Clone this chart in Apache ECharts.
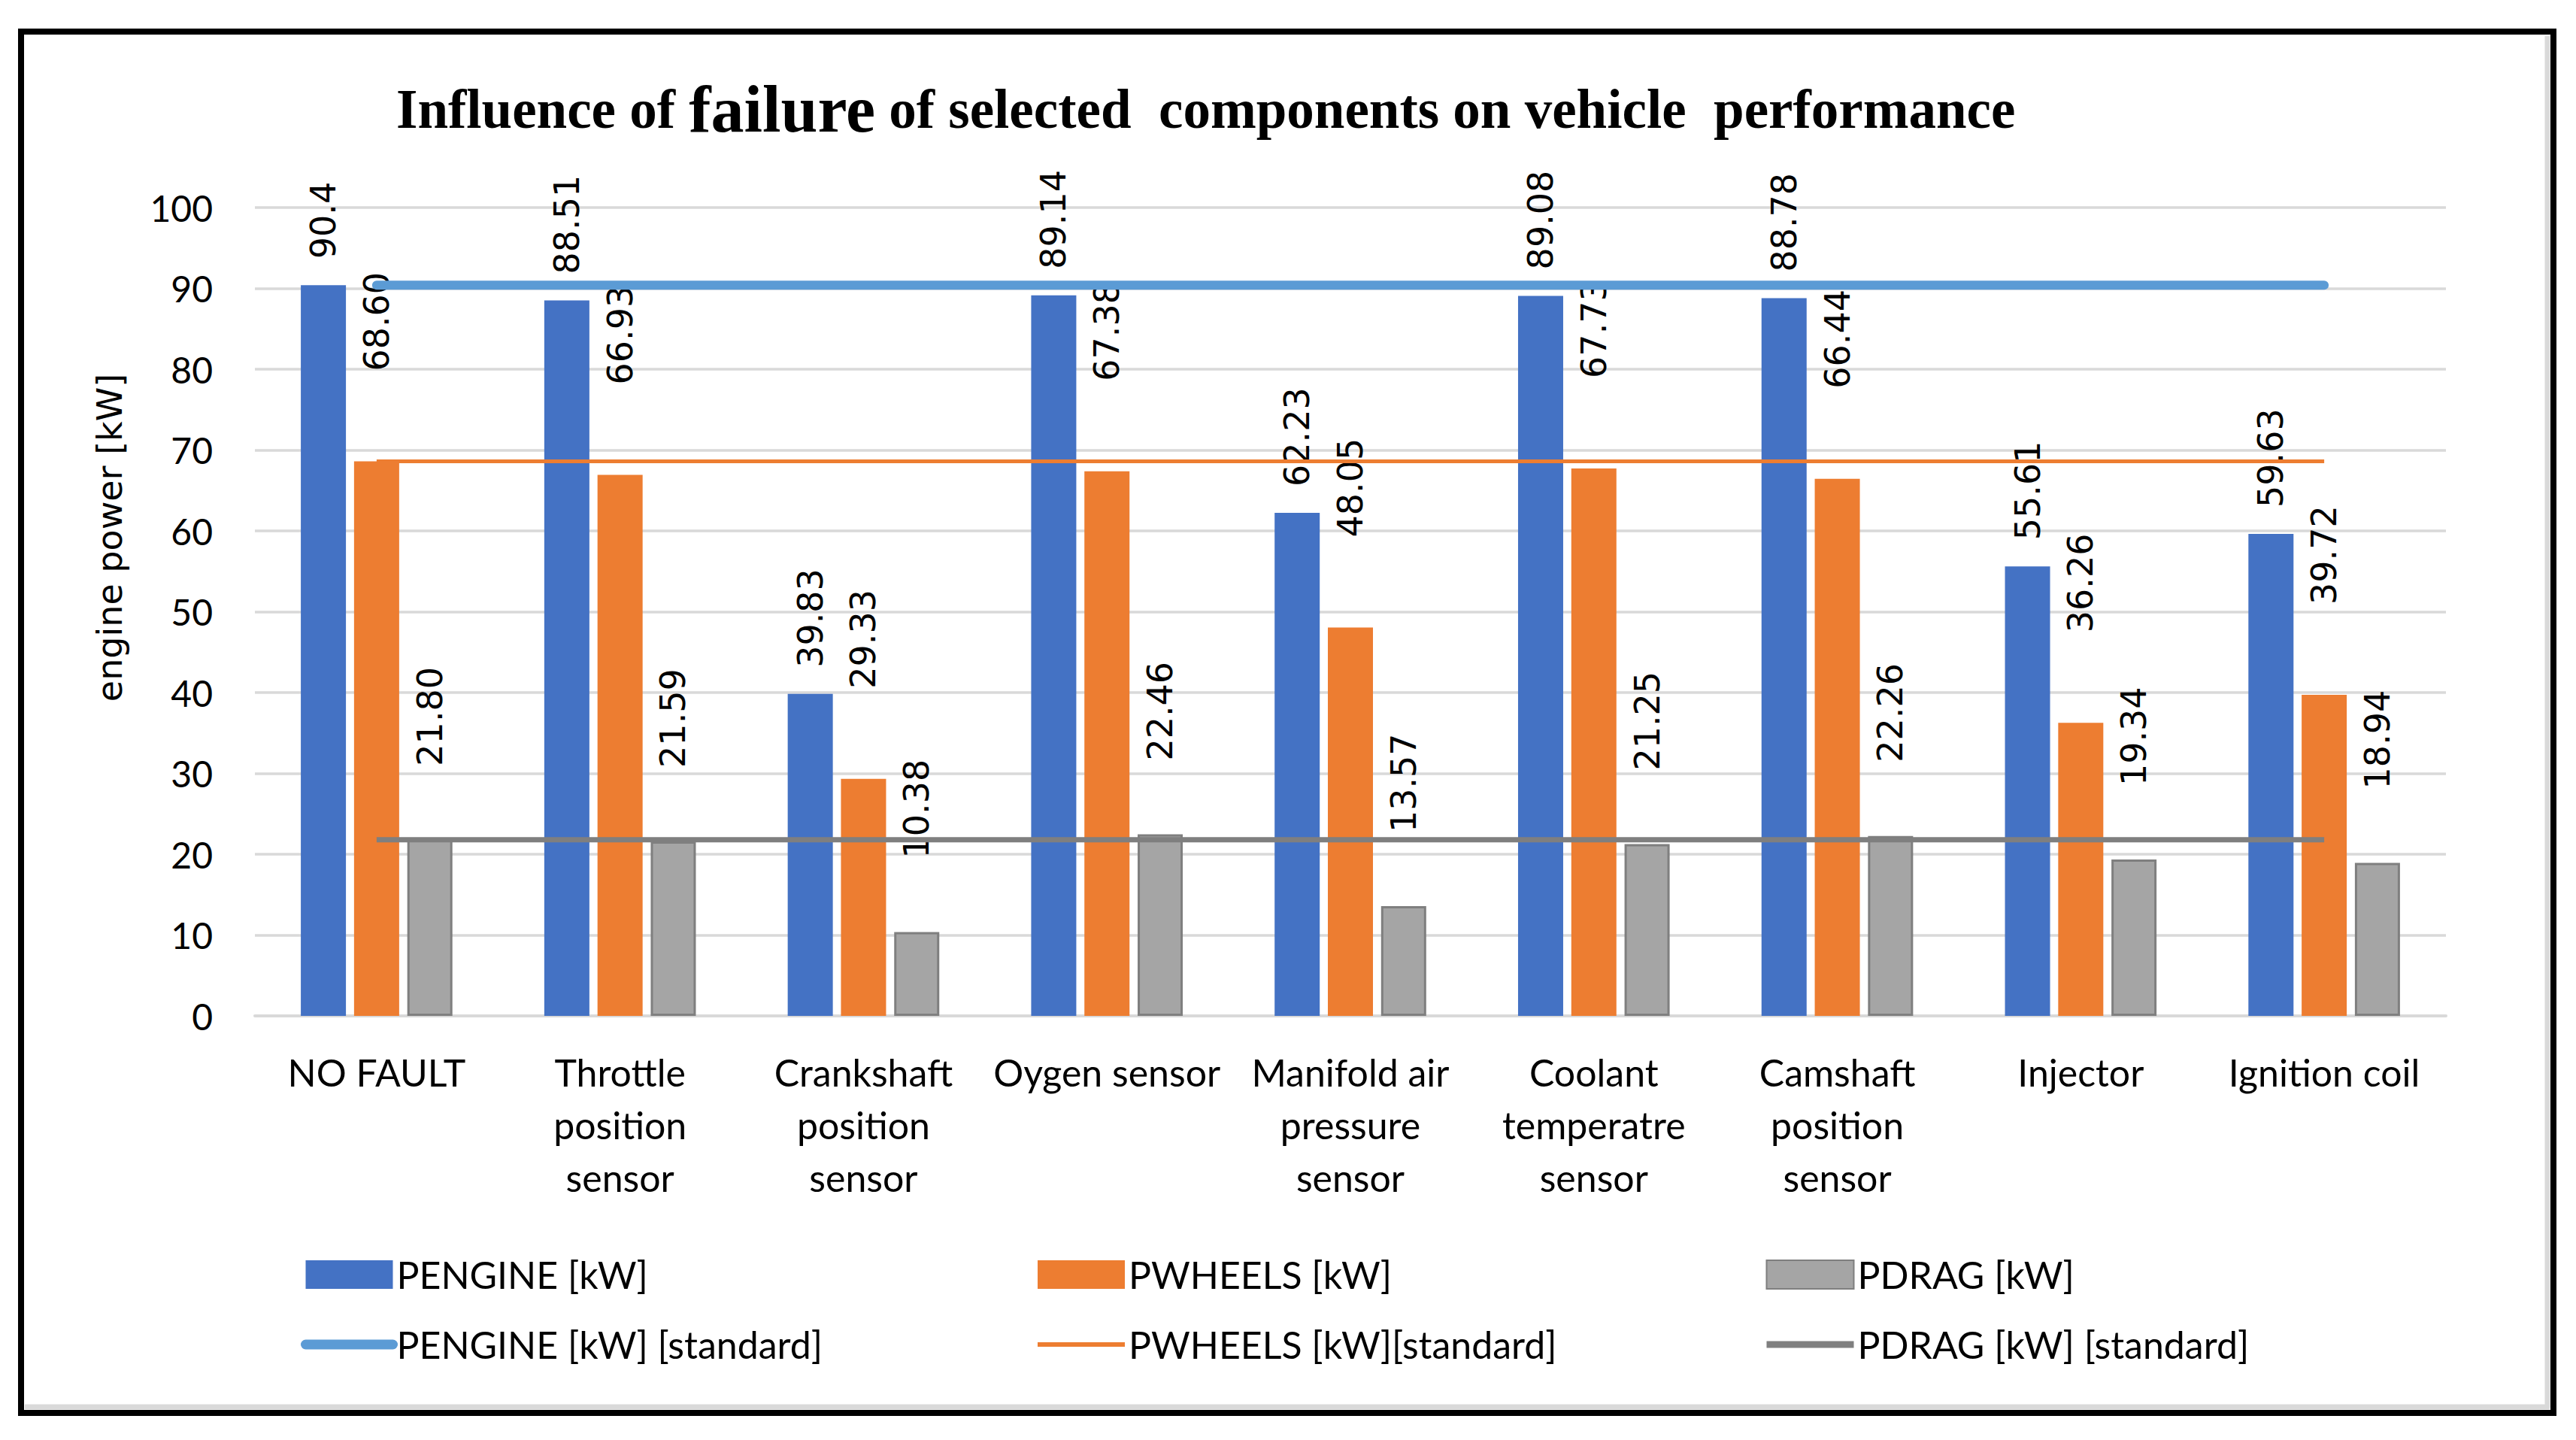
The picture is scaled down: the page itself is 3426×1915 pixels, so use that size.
<!DOCTYPE html>
<html>
<head>
<meta charset="utf-8">
<script src="https://cdn.jsdelivr.net/npm/echarts@6/dist/echarts.min.js"></script>
<style>
html,body{margin:0;padding:0;background:#fff;}
#chart{width:3426px;height:1915px;}
</style>
</head>
<body>
<div id="chart"></div>
<script>
const categories = ['NO FAULT', 'Throttle\nposition\nsensor', 'Crankshaft\nposition\nsensor', 'Oygen sensor', 'Manifold air\npressure\nsensor', 'Coolant\ntemperatre\nsensor', 'Camshaft\nposition\nsensor', 'Injector', 'Ignition coil'];
const pengine = [90.4, 88.51, 39.83, 89.14, 62.23, 89.08, 88.78, 55.61, 59.63];
const pwheels = [68.60, 66.93, 29.33, 67.38, 48.05, 67.73, 66.44, 36.26, 39.72];
const pdrag = [21.80, 21.59, 10.38, 22.46, 13.57, 21.25, 22.26, 19.34, 18.94];
const pengineStd = [90.4, 90.4, 90.4, 90.4, 90.4, 90.4, 90.4, 90.4, 90.4];
const pwheelsStd = [68.60, 68.60, 68.60, 68.60, 68.60, 68.60, 68.60, 68.60, 68.60];
const pdragStd = [21.80, 21.80, 21.80, 21.80, 21.80, 21.80, 21.80, 21.80, 21.80];
const yTicks = [0, 10, 20, 30, 40, 50, 60, 70, 80, 90, 100];

const chart = echarts.init(document.getElementById('chart'), null, {renderer: 'svg'});
const sansTxt = 'Lato, "Open Sans", sans-serif';
const lblFont = '"DejaVu Sans", Verdana, sans-serif';
const noSym = {color: 'rgba(0,0,0,0)', borderColor: 'rgba(0,0,0,0)', borderWidth: 0};

function barLabel(dist, fixed) {
  return {
    show: true, position: 'top', rotate: 90, align: 'left', verticalAlign: 'middle',
    distance: dist, fontFamily: lblFont, fontSize: 46, color: '#000',
    formatter: p => fixed ? p.value.toFixed(2) : String(p.value)
  };
}

const legendBase = {
  orient: 'vertical', itemWidth: 116, itemHeight: 38, itemGap: 43, top: 1665,
  textStyle: {fontFamily: sansTxt, fontSize: 50, color: '#000', padding: [0, 0, 0, 0]}
};

chart.setOption({
  backgroundColor: '#fff',
  animation: false,
  title: {
    left: 522, top: 96,
    text: '{a|Influence of }{b|failure}{a| of selected  components on vehicle  performance}',
    textStyle: {
      rich: {
        a: {fontFamily: '"Liberation Serif", serif', fontWeight: 'bold', fontSize: 73, color: '#000'},
        b: {fontFamily: '"Liberation Serif", serif', fontWeight: 'bold', fontSize: 88, color: '#000'}
      }
    }
  },
  grid: {left: 339, right: 173, top: 276, bottom: 564, containLabel: false},
  legend: [
    Object.assign({}, legendBase, {left: 395, data: [
      {name: 'PENGINE [kW]', icon: 'rect'},
      {name: 'PENGINE [kW] [standard]', itemStyle: noSym, lineStyle: {color: '#5B9BD5', width: 13, cap: 'round'}}
    ]}),
    Object.assign({}, legendBase, {left: 1372, data: [
      {name: 'PWHEELS [kW]', icon: 'rect'},
      {name: 'PWHEELS [kW][standard]', itemStyle: noSym, lineStyle: {color: '#ED7D31', width: 6}}
    ]}),
    Object.assign({}, legendBase, {left: 2340, data: [
      {name: 'PDRAG [kW]', icon: 'rect'},
      {name: 'PDRAG [kW] [standard]', itemStyle: noSym, lineStyle: {color: '#7F7F7F', width: 9}}
    ]})
  ],
  xAxis: {
    type: 'category', data: categories,
    axisTick: {show: false},
    axisLine: {lineStyle: {color: '#d9d9d9', width: 4}},
    axisLabel: {interval: 0, margin: 40, fontFamily: sansTxt, fontSize: 50, lineHeight: 70, color: '#000'}
  },
  yAxis: {
    type: 'value', min: yTicks[0], max: yTicks[yTicks.length - 1], interval: 10,
    axisLine: {show: false}, axisTick: {show: false},
    splitLine: {lineStyle: {color: '#d9d9d9', width: 3.5}},
    axisLabel: {margin: 56, fontFamily: sansTxt, fontSize: 48, color: '#000'}
  },
  graphic: [
    {type: 'text', x: 146, y: 715, rotation: Math.PI / 2,
     style: {text: 'engine power [kW]', font: '46px "DejaVu Sans", Verdana, sans-serif', fill: '#000', align: 'center', verticalAlign: 'middle'}},
    {type: 'line', shape: {x1: 3388, y1: 48, x2: 3388, y2: 1872}, style: {stroke: '#d9d9d9', lineWidth: 7}},
    {type: 'line', shape: {x1: 33, y1: 1871, x2: 3391, y2: 1871}, style: {stroke: '#d9d9d9', lineWidth: 7}},
    {type: 'rect', shape: {x: 28, y: 42, width: 3368, height: 1837}, style: {stroke: '#000', lineWidth: 8, fill: 'none'}}
  ],
  series: [
    {name: 'PENGINE [kW]', type: 'bar', data: pengine, barWidth: 60, barGap: '18%',
     itemStyle: {color: '#4472C4'}, label: barLabel(35, false)},
    {name: 'PWHEELS [kW]', type: 'bar', data: pwheels, barWidth: 60, barGap: '18%',
     itemStyle: {color: '#ED7D31'}, label: barLabel(120, true)},
    {name: 'PDRAG [kW]', type: 'bar', data: pdrag, barWidth: 60, barGap: '18%',
     itemStyle: {color: '#A5A5A5', borderColor: '#7F7F7F', borderWidth: 3}, label: barLabel(98, true)},
    {name: 'PENGINE [kW] [standard]', type: 'line', data: pengineStd, symbol: 'none', z: 5,
     lineStyle: {color: '#5B9BD5', width: 12, cap: 'round'}, itemStyle: {color: '#5B9BD5'}},
    {name: 'PWHEELS [kW][standard]', type: 'line', data: pwheelsStd, symbol: 'none', z: 5,
     lineStyle: {color: '#ED7D31', width: 5}, itemStyle: {color: '#ED7D31'}},
    {name: 'PDRAG [kW] [standard]', type: 'line', data: pdragStd, symbol: 'none', z: 5,
     lineStyle: {color: '#7F7F7F', width: 7}, itemStyle: {color: '#7F7F7F'}}
  ]
});
</script>
</body>
</html>
